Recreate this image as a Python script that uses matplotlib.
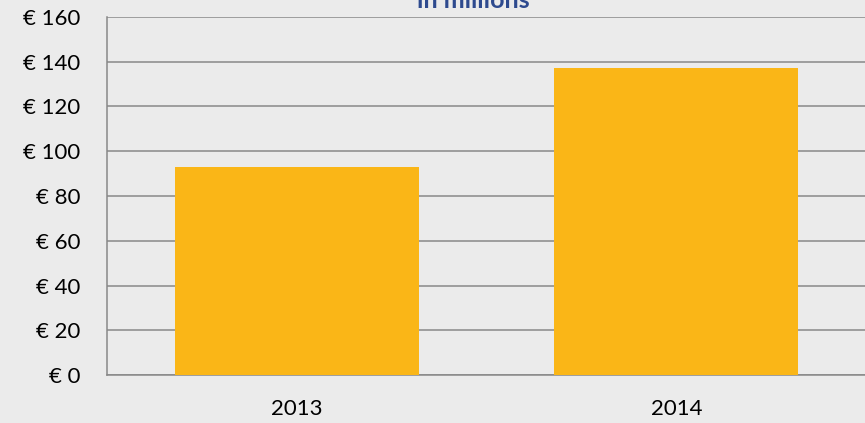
import matplotlib
matplotlib.use("Agg")
import matplotlib.pyplot as plt
from matplotlib.ticker import FuncFormatter

categories = ["2013", "2014"]
values = [93, 137]
yticks = [0, 20, 40, 60, 80, 100, 120, 140, 160]

plt.rcParams['font.family'] = ['Lato', 'DejaVu Sans']

fig = plt.figure(figsize=(8.65, 4.23), dpi=100, facecolor='#EBEBEB')
ax = fig.add_axes([107/865, 1 - 375/423, (866-107)/865, (375-17)/423])
ax.set_facecolor('#EBEBEB')

x = list(range(len(categories)))
ax.bar(x, values, width=0.643, color='#FAB617', zorder=3)
ax.set_xlim(-0.5, len(categories) - 0.5)
ax.set_ylim(0, 160)
ax.set_yticks(yticks)
ax.yaxis.set_major_formatter(FuncFormatter(lambda v, p: f"€ {int(v)}"))
ax.set_xticks(x)
ax.set_xticklabels(categories)
ax.grid(axis='y', color='#888888', linewidth=1.1, zorder=0)
ax.tick_params(axis='both', length=0, labelsize=16, colors='black')
ax.tick_params(axis='y', pad=19)
ax.tick_params(axis='x', pad=17)
for s in ['top', 'right']:
    ax.spines[s].set_visible(False)
for s in ['left', 'bottom']:
    ax.spines[s].set_color('#888888')
    ax.spines[s].set_linewidth(1.1)

fig.text(473/865, 1 - 8/423, "in millions", ha='center', va='baseline',
         fontsize=18, fontweight='bold', color='#2E4A8E')

fig.savefig("out.png", dpi=100, facecolor=fig.get_facecolor())
